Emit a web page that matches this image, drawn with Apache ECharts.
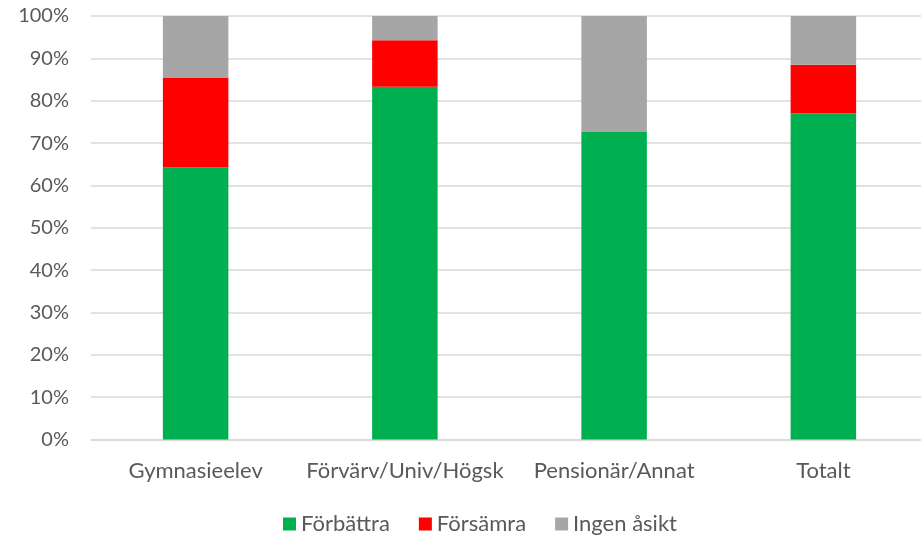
<!DOCTYPE html>
<html><head><meta charset="utf-8">
<script src="https://cdn.jsdelivr.net/npm/echarts@6/dist/echarts.min.js"></script>
<style>html,body{margin:0;padding:0;background:#fff;overflow:hidden}#c{width:928px;height:537px}</style>
</head><body><div id="c"></div>
<script>
const categories = ['Gymnasieelev', 'Förvärv/Univ/Högsk', 'Pensionär/Annat', 'Totalt'];
const forbattra = [64.3, 83.3, 72.6, 77.0];
const forsamra = [21.2, 11.0, 0, 11.5];
const ingenAsikt = [14.5, 5.7, 27.4, 11.5];
const seriesNames = ['Förbättra', 'Försämra', 'Ingen åsikt'];
const colors = ['#00B050', '#FF0000', '#A6A6A6'];

const font = 'Lato, "Liberation Sans", sans-serif';
const chart = echarts.init(document.getElementById('c'));
const data = [forbattra, forsamra, ingenAsikt];
chart.setOption({
  animation: false,
  grid: { left: 91, top: 16, right: 0, height: 423.5 },
  legend: {
    top: 508, left: 278,
    itemWidth: 13, itemHeight: 13, itemGap: 29,
    icon: 'rect',
    textStyle: { fontFamily: font, fontSize: 22, color: '#595959' },
    data: seriesNames
  },
  xAxis: {
    type: 'category', data: categories,
    axisLine: { lineStyle: { color: '#D9D9D9', width: 1.5 } },
    axisTick: { show: false },
    axisLabel: { fontFamily: font, fontSize: 22, color: '#595959', margin: 20, interval: 0 }
  },
  yAxis: {
    type: 'value', min: 0, max: 100, interval: 10,
    axisLine: { show: false }, axisTick: { show: false },
    splitLine: { lineStyle: { color: '#D9D9D9', width: 1.5 } },
    axisLabel: { fontFamily: font, fontSize: 20, color: '#595959', margin: 22, formatter: v => v + '%' }
  },
  series: seriesNames.map((n, i) => ({
    name: n, type: 'bar', stack: 'total', barWidth: '31.3%',
    data: data[i], itemStyle: { color: colors[i] }
  }))
});
</script></body></html>
